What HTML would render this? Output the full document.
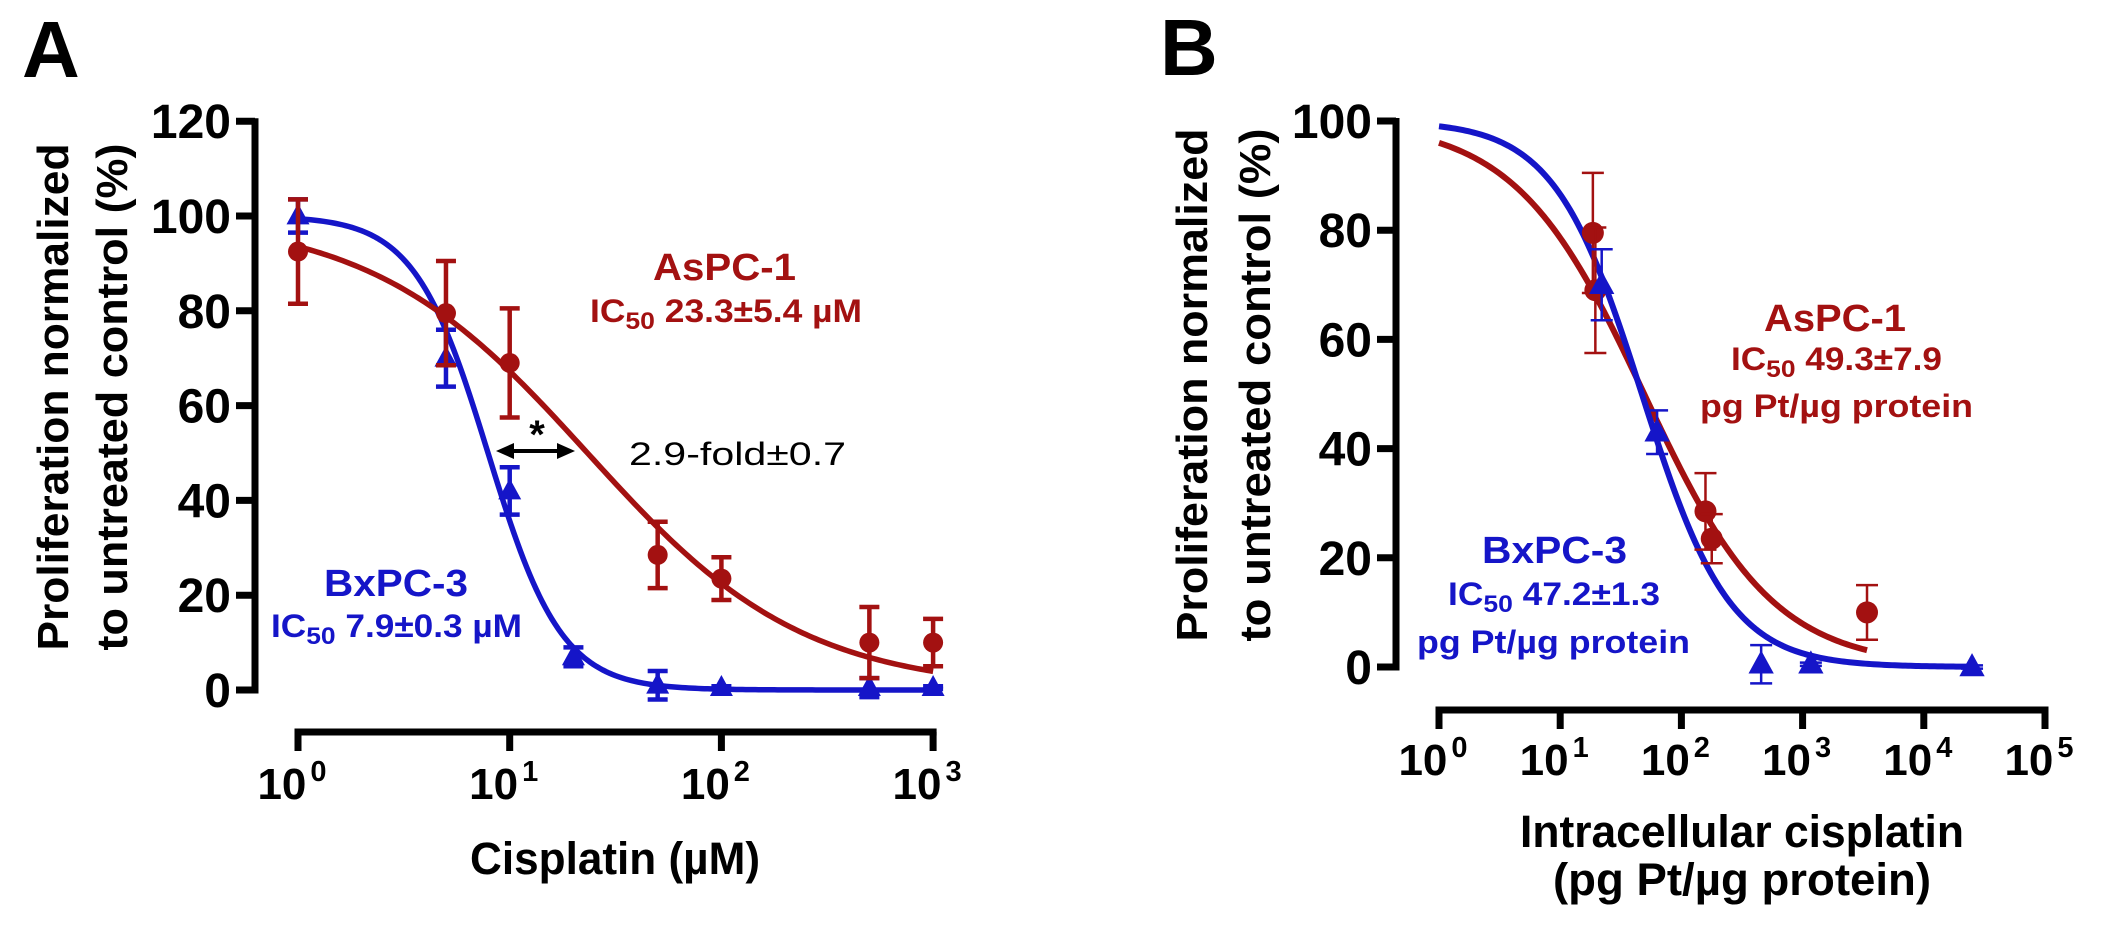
<!DOCTYPE html>
<html><head><meta charset="utf-8"><style>
html,body{margin:0;padding:0;background:#fff;}
svg{display:block;font-family:"Liberation Sans",Arial,sans-serif;}
</style></head><body>
<svg id="fig" width="2103" height="935" viewBox="0 0 2103 935" xmlns="http://www.w3.org/2000/svg">
<rect width="2103" height="935" fill="#fff"/>
<!-- Panel A static text -->
<text x="22" y="77" font-size="80" font-weight="bold">A</text>
<text transform="translate(68,397) rotate(-90)" text-anchor="middle" font-size="44" font-weight="bold" textLength="507" lengthAdjust="spacingAndGlyphs">Proliferation normalized</text>
<text transform="translate(127,397) rotate(-90)" text-anchor="middle" font-size="44" font-weight="bold" textLength="507" lengthAdjust="spacingAndGlyphs">to untreated control (%)</text>
<text x="470" y="874" font-size="45" font-weight="bold" textLength="290" lengthAdjust="spacingAndGlyphs">Cisplatin (µM)</text>
<text x="653" y="280" font-size="38" font-weight="bold" fill="#a31111" textLength="143" lengthAdjust="spacingAndGlyphs">AsPC-1</text>
<text x="590" y="322" font-size="32" font-weight="bold" fill="#a31111" textLength="272" lengthAdjust="spacingAndGlyphs">IC<tspan font-size="24" dy="7">50</tspan><tspan dy="-7"> 23.3±5.4 µM</tspan></text>
<text x="324" y="596" font-size="38" font-weight="bold" fill="#1515c8" textLength="144" lengthAdjust="spacingAndGlyphs">BxPC-3</text>
<text x="271" y="637" font-size="32" font-weight="bold" fill="#1515c8" textLength="251" lengthAdjust="spacingAndGlyphs">IC<tspan font-size="24" dy="7">50</tspan><tspan dy="-7"> 7.9±0.3 µM</tspan></text>
<text x="629" y="465" font-size="32" textLength="217" lengthAdjust="spacingAndGlyphs">2.9-fold±0.7</text>
<text x="537" y="448" font-size="40" font-weight="bold" text-anchor="middle">*</text>
<!-- Panel B static text -->
<text x="1160" y="75" font-size="80" font-weight="bold">B</text>
<text transform="translate(1207,385) rotate(-90)" text-anchor="middle" font-size="44" font-weight="bold" textLength="513" lengthAdjust="spacingAndGlyphs">Proliferation normalized</text>
<text transform="translate(1270,385) rotate(-90)" text-anchor="middle" font-size="44" font-weight="bold" textLength="513" lengthAdjust="spacingAndGlyphs">to untreated control (%)</text>
<text x="1520" y="847" font-size="45" font-weight="bold" textLength="444" lengthAdjust="spacingAndGlyphs">Intracellular cisplatin</text>
<text x="1553" y="895" font-size="45" font-weight="bold" textLength="378" lengthAdjust="spacingAndGlyphs">(pg Pt/µg protein)</text>
<text x="1764" y="331" font-size="38" font-weight="bold" fill="#a31111" textLength="142" lengthAdjust="spacingAndGlyphs">AsPC-1</text>
<text x="1731" y="370" font-size="32" font-weight="bold" fill="#a31111" textLength="211" lengthAdjust="spacingAndGlyphs">IC<tspan font-size="24" dy="7">50</tspan><tspan dy="-7"> 49.3±7.9</tspan></text>
<text x="1700" y="417" font-size="32" font-weight="bold" fill="#a31111" textLength="273" lengthAdjust="spacingAndGlyphs">pg Pt/µg protein</text>
<text x="1482" y="563" font-size="38" font-weight="bold" fill="#1515c8" textLength="145" lengthAdjust="spacingAndGlyphs">BxPC-3</text>
<text x="1448" y="605" font-size="32" font-weight="bold" fill="#1515c8" textLength="212" lengthAdjust="spacingAndGlyphs">IC<tspan font-size="24" dy="7">50</tspan><tspan dy="-7"> 47.2±1.3</tspan></text>
<text x="1417" y="653" font-size="32" font-weight="bold" fill="#1515c8" textLength="273" lengthAdjust="spacingAndGlyphs">pg Pt/µg protein</text>
<g id="dyn"></g>
</svg>
<script>
// ---- Panel A data ----
const aX = [1, 5, 10, 50, 100, 500, 1000];
const aRed = [92.5, 79.5, 69, 28.5, 23.5, 10, 10];
const aRedErr = [11, 11, 11.5, 7, 4.5, 7.5, 5];
const aBlueX = [1, 5, 10, 20, 50, 100, 500, 1000];
const aBlue = [100, 70, 42, 7, 1, 0.5, 0.5, 0.5];
const aBlueErr = [3.5, 6, 5, 2, 3, 0.3, 2, 0.3];
const aFitRed = [23.3, 0.85];   // IC50, hill
const aFitBlue = [7.9, 2.5];
const aYTicks = [0, 20, 40, 60, 80, 100, 120];
const aXTicks = [0, 1, 2, 3];
// ---- Panel B data ----
const bRedX = [18.6, 19.5, 158, 178, 3400];
const bRed = [79.5, 69, 28.5, 23.5, 10];
const bRedErr = [11, 11.5, 7, 4.5, 5];
const bBlueX = [22, 63, 455, 1170, 25000];
const bBlue = [70, 43, 0.5, 0.5, 0];
const bBlueErr = [6.5, 4, 3.5, 0.3, 0.3];
const bFitRed = [49.3, 0.815, 1, 3400];
const bFitBlue = [47.2, 1.2, 1, 25000];
const bYTicks = [0, 20, 40, 60, 80, 100];
const bXTicks = [0, 1, 2, 3, 4, 5];

const NS = "http://www.w3.org/2000/svg";
const root = document.getElementById('dyn');
const RED = "#a31111", BLUE = "#1515c8";
function mk(tag, attrs, parent) {
  const e = document.createElementNS(NS, tag);
  for (const k in attrs) e.setAttribute(k, attrs[k]);
  (parent || root).appendChild(e);
  return e;
}
function logistic(x, ic, h) { return 100 / (1 + Math.pow(x / ic, h)); }

function panel(cfg) {
  const sx = v => cfg.x0 + Math.log10(v) * cfg.dec;
  const sy = v => cfg.y0 - v * cfg.ypu;
  const ya = mk('line', {x1: cfg.yax, x2: cfg.yax, y1: sy(cfg.ymax) - 3, y2: cfg.y0 + 3.5, stroke: '#000', 'stroke-width': 7});
  
  
  cfg.yTicks.forEach(t => {
    const tk = mk('line', {x1: cfg.yax - 19, x2: cfg.yax, y1: sy(t), y2: sy(t), stroke: '#000', 'stroke-width': 7});
    
    
    const tl = mk('text', {x: cfg.yax - 24, y: sy(t) + 17, 'text-anchor': 'end', 'font-size': 48, 'font-weight': 'bold'});
    tl.textContent = t;
    
    
  });
  const lo = cfg.xTicks[0], hi = cfg.xTicks[cfg.xTicks.length - 1];
  const xa = mk('line', {x1: sx(Math.pow(10, lo)) - 3.5, x2: sx(Math.pow(10, hi)) + 3.5, y1: cfg.xay, y2: cfg.xay, stroke: '#000', 'stroke-width': 7});
  
  
  cfg.xTicks.forEach(e => {
    const x = sx(Math.pow(10, e));
    const tk = mk('line', {x1: x, x2: x, y1: cfg.xay, y2: cfg.xay + 19, stroke: '#000', 'stroke-width': 7});
    
    
    const tl = mk('text', {x: x - 6, y: cfg.xlab, 'text-anchor': 'middle', 'font-size': 44, 'font-weight': 'bold'});
    
    
    const t1 = mk('tspan', {}, tl); t1.textContent = '10';
    const t2 = mk('tspan', {dy: -18, 'font-size': 29, dx: 4}, tl); t2.textContent = e;
  });
  cfg.series.forEach(s => {
    let d = '';
    const n = 200;
    const l0 = Math.log10(s.fit[2]), l1 = Math.log10(s.fit[3]);
    for (let i = 0; i <= n; i++) {
      const lx = l0 + (l1 - l0) * i / n;
      const x = Math.pow(10, lx);
      d += (i ? 'L' : 'M') + sx(x).toFixed(2) + ',' + sy(logistic(x, s.fit[0], s.fit[1])).toFixed(2);
    }
    const c = mk('path', {d: d, fill: 'none', stroke: s.color, 'stroke-width': cfg.lw});
    
    
  });
  cfg.series.forEach(s => {
    s.xs.forEach((xv, i) => {
      const x = sx(xv), y = s.ys[i], e = s.err[i];
      const g = mk('g', {});
      
      
      const top = sy(y + e), bot = sy(y - e);
      mk('line', {x1: x, x2: x, y1: top, y2: bot, stroke: s.color, 'stroke-width': cfg.ew}, g);
      mk('line', {x1: x - cfg.cap, x2: x + cfg.cap, y1: top, y2: top, stroke: s.color, 'stroke-width': cfg.ew}, g);
      mk('line', {x1: x - cfg.cap, x2: x + cfg.cap, y1: bot, y2: bot, stroke: s.color, 'stroke-width': cfg.ew}, g);
      const py = sy(y);
      if (s.shape === 'circle') {
        mk('circle', {cx: x, cy: py, r: cfg.r, fill: s.color}, g);
      } else {
        const h = cfg.r * 2.1, w = cfg.r * 1.15;
        mk('polygon', {points: `${x},${py - h * 0.6} ${x - w},${py + h * 0.4} ${x + w},${py + h * 0.4}`, fill: s.color}, g);
      }
    });
  });
}

panel({p: 'panel-a', x0: 298, dec: 211.7, y0: 690, ypu: 4.74, ymax: 120, yax: 255, xay: 732, xlab: 799,
  yTicks: aYTicks, xTicks: aXTicks, lw: 5.5, ew: 4.5, cap: 10, r: 10,
  series: [
    {name: 'bxpc3-a', color: BLUE, shape: 'tri', xs: aBlueX, ys: aBlue, err: aBlueErr, fit: [aFitBlue[0], aFitBlue[1], 1, 1000]},
    {name: 'aspc1-a', color: RED, shape: 'circle', xs: aX, ys: aRed, err: aRedErr, fit: [aFitRed[0], aFitRed[1], 1, 1000]}
  ]});

panel({p: 'panel-b', x0: 1439, dec: 121.2, y0: 667, ypu: 5.46, ymax: 100, yax: 1396, xay: 710, xlab: 775,
  yTicks: bYTicks, xTicks: bXTicks, lw: 6, ew: 2.5, cap: 11, r: 11,
  series: [
    {name: 'aspc1-b', color: RED, shape: 'circle', xs: bRedX, ys: bRed, err: bRedErr, fit: bFitRed},
    {name: 'bxpc3-b', color: BLUE, shape: 'tri', xs: bBlueX, ys: bBlue, err: bBlueErr, fit: bFitBlue}
  ]});

const arr = mk('g', {});


mk('line', {x1: 510, x2: 560, y1: 451, y2: 451, stroke: '#000', 'stroke-width': 4}, arr);
mk('polygon', {points: '496,451 514,443 514,459', fill: '#000'}, arr);
mk('polygon', {points: '575,451 557,443 557,459', fill: '#000'}, arr);
</script>
</body></html>
